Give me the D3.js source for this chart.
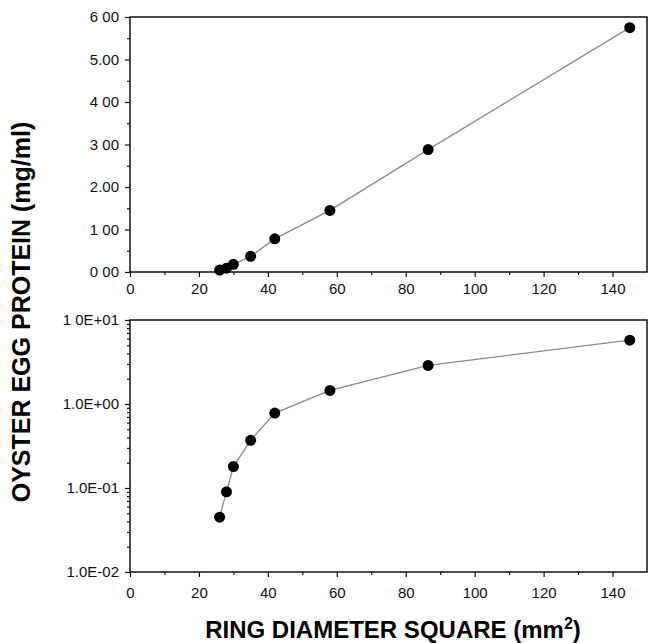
<!DOCTYPE html>
<html><head><meta charset="utf-8">
<script src="https://cdn.jsdelivr.net/npm/d3@7"></script>
<style>
body{margin:0;background:#fff;}
svg{display:block;}
.tick text{font-family:"Liberation Sans",Arial,sans-serif;font-size:15px;fill:#111;}
.domain{stroke:#111;stroke-width:1.5;}
.tick line{stroke:#111;stroke-width:1.2;}
</style>
</head><body>
<svg id="chart" width="656" height="643"></svg>
<script>
// Data
const ringDiamSq = [26, 28, 30, 35, 42, 58, 86.5, 145];
const eggProtein = [0.045, 0.09, 0.18, 0.37, 0.78, 1.45, 2.88, 5.75];
const xTicks = [0, 20, 40, 60, 80, 100, 120, 140];
const yLinTicks = [0, 1, 2, 3, 4, 5, 6];
const yLinLabels = ["0 00", "1 00", "2.00", "3 00", "4 00", "5.00", "6 00"];
const yLogTicks = [0.01, 0.1, 1, 10];
const yLogLabels = ["1.0E-02", "1.0E-01", "1.0E+00", "1 0E+01"];

const svg = d3.select("#chart");
const left = 130, right = 647;
const top1 = 17, bot1 = 272;
const top2 = 320, bot2 = 572;

const x = d3.scaleLinear().domain([0, 150]).range([left, right]);
const yLin = d3.scaleLinear().domain([0, 6]).range([bot1, top1]);
const yLog = d3.scaleLog().domain([0.01, 10]).range([bot2, top2]);

const pts = ringDiamSq.map((d, i) => ({x: d, y: eggProtein[i]}));

function drawPanel(y, top, bot, majorTicks, labels, minorTicks, labelDy) {
  const g = svg.append("g");
  g.append("rect").attr("x", left).attr("y", top).attr("width", right - left).attr("height", bot - top)
    .attr("fill", "none").attr("stroke", "#111").attr("stroke-width", 1.5);
  const xa = g.append("g").attr("transform", `translate(0,${bot})`)
    .call(d3.axisBottom(x).tickValues(xTicks).tickSize(5).tickPadding(labelDy).tickSizeOuter(0));
  xa.select(".domain").remove();
  g.append("g").attr("transform", `translate(0,${bot})`)
    .call(d3.axisBottom(x).tickValues(d3.range(10, 150, 20)).tickSize(3).tickFormat("").tickSizeOuter(0))
    .select(".domain").remove();
  const ya = g.append("g").attr("transform", `translate(${left},0)`)
    .call(d3.axisLeft(y).tickValues(majorTicks).tickSize(5).tickPadding(6)
      .tickFormat((d, i) => labels[i]).tickSizeOuter(0));
  ya.select(".domain").remove();
  g.append("g").attr("transform", `translate(${left},0)`)
    .call(d3.axisLeft(y).tickValues(minorTicks).tickSize(3).tickFormat("").tickSizeOuter(0))
    .select(".domain").remove();
  const line = d3.line().x(d => x(d.x)).y(d => y(d.y));
  g.append("path").datum(pts).attr("d", line).attr("fill", "none")
    .attr("stroke", "#8a8a8a").attr("stroke-width", 1.3);
  g.selectAll("circle").data(pts).join("circle")
    .attr("cx", d => x(d.x)).attr("cy", d => y(d.y)).attr("r", 5.5).attr("fill", "#000");
}

const linMinor = d3.range(0.5, 6, 1);
drawPanel(yLin, top1, bot1, yLinTicks, yLinLabels, linMinor, 6);

const logMinor = [];
[0.01, 0.1, 1].forEach(b => { for (let k = 2; k <= 9; k++) logMinor.push(b * k); });
drawPanel(yLog, top2, bot2, yLogTicks, yLogLabels, logMinor, 10);

svg.append("text")
  .attr("transform", `translate(30,312) rotate(-90)`)
  .attr("text-anchor", "middle")
  .style("font-family", "'Liberation Sans',Arial,sans-serif").style("font-weight", "bold").style("font-size", "25px")
  .text("OYSTER EGG PROTEIN (mg/ml)");

const xt = svg.append("text")
  .attr("x", 393).attr("y", 638).attr("text-anchor", "middle")
  .style("font-family", "'Liberation Sans',Arial,sans-serif").style("font-weight", "bold").style("font-size", "24px");
xt.append("tspan").text("RING DIAMETER SQUARE (mm");
xt.append("tspan").attr("dy", -9).style("font-size", "16px").text("2");
xt.append("tspan").attr("dy", 9).text(")");
</script>
</body></html>
